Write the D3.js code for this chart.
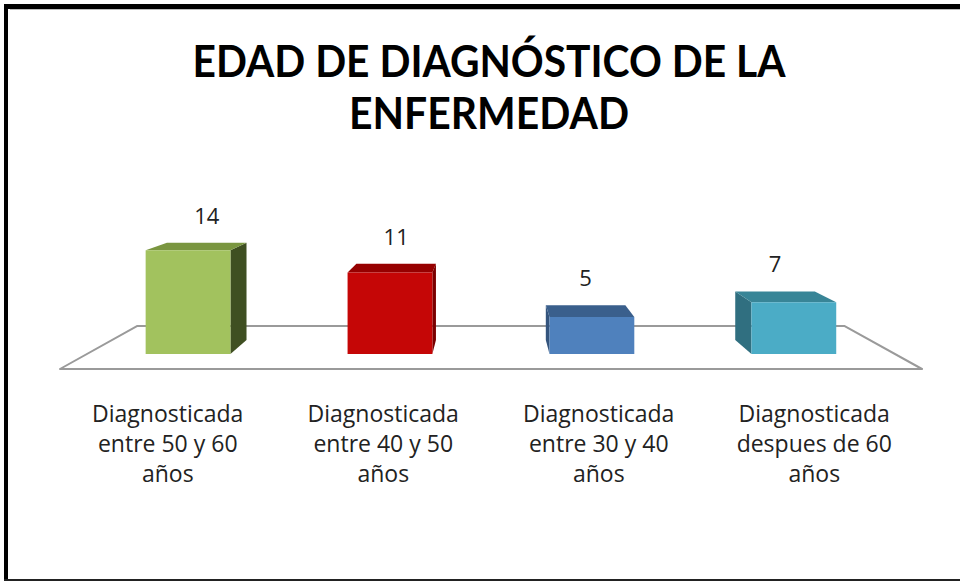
<!DOCTYPE html>
<html>
<head>
<meta charset="utf-8">
<script src="https://cdn.jsdelivr.net/npm/d3@7"></script>
<style>
  body { margin: 0; background: #fff; }
  svg { display: block; font-family: "Open Sans", sans-serif; }
</style>
</head>
<body>
<div id="vis"></div>
<script>
// Chart data
const CATEGORIES = [
  ["Diagnosticada", "entre 50 y 60", "años"],
  ["Diagnosticada", "entre 40 y 50", "años"],
  ["Diagnosticada", "entre 30 y 40", "años"],
  ["Diagnosticada", "despues de 60", "años"]
];
const VALUES = [14, 11, 5, 7];
const TITLE_LINES = ["EDAD DE DIAGNÓSTICO DE LA", "ENFERMEDAD"];
const FRONT_COLORS = ["#a2c25e", "#c50606", "#4f81bd", "#4bacc6"];
const TOP_COLORS = ["#7a9640", "#960000", "#3a5f8c", "#388597"];
const SIDE_COLORS = ["#3f4f22", "#7a0000", "#34547d", "#306f80"];

// Frame and 3D projection settings
const FRAME_WIDTH = 960;
const FRAME_HEIGHT = 582;
const FLOOR = {left: 60, right: 922, y: 369};
const VP = {x: 490, y: 130};        // vanishing point
const DEPTH = {floorBack: 0.82, barFront: 0.937, barBack: 0.879};

const FRAME = d3.select("#vis")
  .append("svg")
    .attr("width", FRAME_WIDTH)
    .attr("height", FRAME_HEIGHT);

// project a point from the front plane towards the vanishing point
function proj(x, y, s) {
  return [VP.x + (x - VP.x) * s, VP.y + (y - VP.y) * s];
}

// Scales (in front-plane coordinates)
const X_SCALE = d3.scaleBand()
  .domain(d3.range(VALUES.length))
  .range([FLOOR.left, FLOOR.right])
  .padding(0);

const Y_SCALE = d3.scaleLinear()
  .domain([0, 14])
  .range([FLOOR.y, FLOOR.y - 110.6]);

const BAR_W = X_SCALE.bandwidth() * 0.42;

// Outer border of the picture
FRAME.append("line").attr("x1", 4).attr("x2", FRAME_WIDTH).attr("y1", 6.5).attr("y2", 6.5)
  .attr("stroke", "#000").attr("stroke-width", 5);
FRAME.append("line").attr("x1", 10).attr("x2", FRAME_WIDTH).attr("y1", 9.5).attr("y2", 9.5)
  .attr("stroke", "#bbb").attr("stroke-width", 1);
FRAME.append("line").attr("x1", 6).attr("x2", 6).attr("y1", 4).attr("y2", 581)
  .attr("stroke", "#000").attr("stroke-width", 4);
FRAME.append("line").attr("x1", 4).attr("x2", FRAME_WIDTH).attr("y1", 580).attr("y2", 580)
  .attr("stroke", "#222").attr("stroke-width", 2);

// Title
FRAME.append("g").selectAll("text")
  .data(TITLE_LINES)
  .enter()
  .append("text")
    .attr("x", 489)
    .attr("y", (d, i) => 77 + i * 52)
    .attr("text-anchor", "middle")
    .attr("font-family", "Lato, sans-serif")
    .attr("font-weight", "700")
    .attr("font-size", "43px")
    .attr("textLength", (d, i) => i === 0 ? 593 : 280)
    .attr("lengthAdjust", "spacingAndGlyphs")
    .attr("fill", "#000")
    .text(d => d);

// Floor
const floorBL = proj(FLOOR.left, FLOOR.y, DEPTH.floorBack);
const floorBR = proj(FLOOR.right, FLOOR.y, DEPTH.floorBack);
FRAME.append("polygon")
  .attr("points", [[FLOOR.left, FLOOR.y], floorBL, floorBR, [FLOOR.right, FLOOR.y]].join(" "))
  .attr("fill", "#fff")
  .attr("stroke", "#9a9a9a")
  .attr("stroke-width", 2)
  .attr("stroke-linejoin", "round");

// 3D bars
const bars = FRAME.append("g").selectAll("g")
  .data(VALUES)
  .enter()
  .append("g");

function barGeom(d, i) {
  const cx = X_SCALE(i) + X_SCALE.bandwidth() / 2;
  const x0 = cx - BAR_W / 2, x1 = cx + BAR_W / 2;
  const yT = Y_SCALE(d), yB = Y_SCALE(0);
  return {
    fTL: proj(x0, yT, DEPTH.barFront), fTR: proj(x1, yT, DEPTH.barFront),
    fBL: proj(x0, yB, DEPTH.barFront), fBR: proj(x1, yB, DEPTH.barFront),
    bTL: proj(x0, yT, DEPTH.barBack), bTR: proj(x1, yT, DEPTH.barBack),
    bBL: proj(x0, yB, DEPTH.barBack), bBR: proj(x1, yB, DEPTH.barBack),
    back: proj(cx, yT, DEPTH.barBack)
  };
}

// side face (only the one facing the viewer)
bars.append("polygon")
  .attr("points", (d, i) => {
    const g = barGeom(d, i);
    return g.bTR[0] > g.fTR[0]
      ? [g.fTR, g.bTR, g.bBR, g.fBR].join(" ")
      : [g.fTL, g.bTL, g.bBL, g.fBL].join(" ");
  })
  .attr("fill", (d, i) => SIDE_COLORS[i]);

// top face
bars.append("polygon")
  .attr("points", (d, i) => {
    const g = barGeom(d, i);
    return [g.fTL, g.bTL, g.bTR, g.fTR].join(" ");
  })
  .attr("fill", (d, i) => TOP_COLORS[i]);

// front face
bars.append("polygon")
  .attr("points", (d, i) => {
    const g = barGeom(d, i);
    return [g.fTL, g.fTR, g.fBR, g.fBL].join(" ");
  })
  .attr("fill", (d, i) => FRONT_COLORS[i]);

// value labels
bars.append("text")
  .attr("x", (d, i) => barGeom(d, i).back[0])
  .attr("y", (d, i) => barGeom(d, i).back[1] - 19)
  .attr("text-anchor", "middle")
  .attr("font-size", "22px")
  .attr("fill", "#222")
  .text(d => d);

// Category labels under the floor
FRAME.append("g").selectAll("text")
  .data(CATEGORIES)
  .enter()
  .append("text")
    .attr("x", (d, i) => X_SCALE(i) + X_SCALE.bandwidth() / 2)
    .attr("y", 422)
    .attr("text-anchor", "middle")
    .attr("font-size", "23px")
    .attr("fill", "#222")
    .selectAll("tspan")
    .data(d => d)
    .enter()
    .append("tspan")
      .attr("x", function () { return this.parentNode.getAttribute("x"); })
      .attr("dy", (d, j) => j === 0 ? 0 : 30)
      .text(d => d);
</script>
</body>
</html>
